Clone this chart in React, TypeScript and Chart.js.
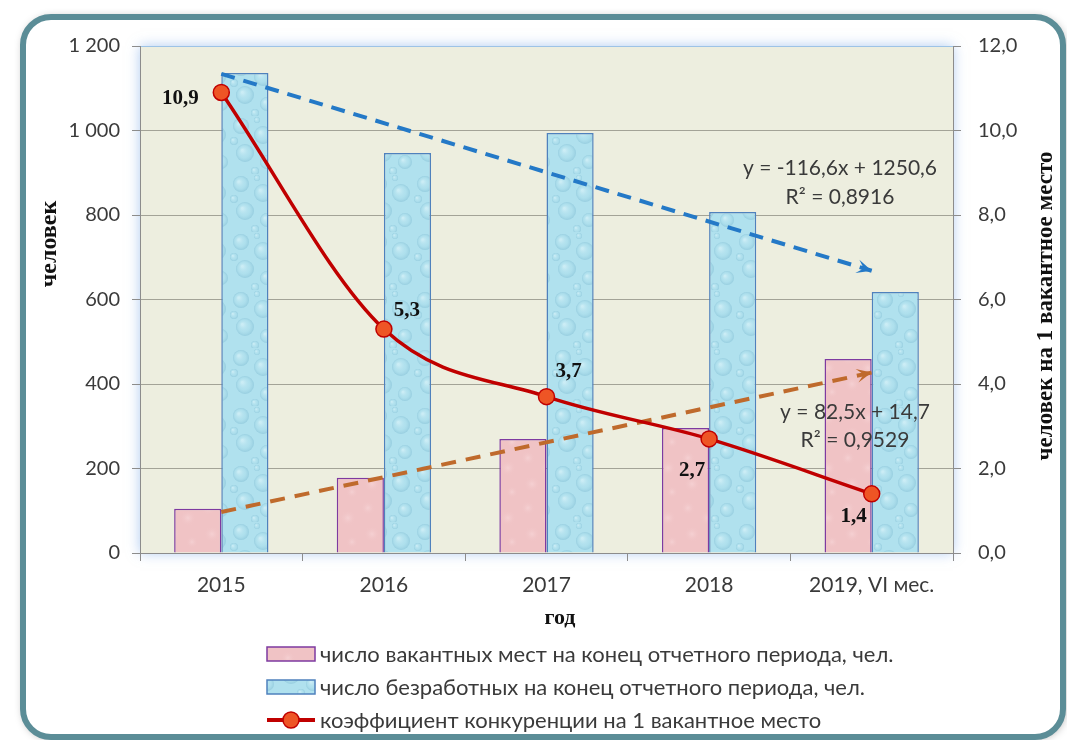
import React, { useEffect, useRef } from 'react';
import { Chart, registerables } from 'chart.js';

Chart.register(...registerables);

// ---------- data ----------
const categories = ['2015', '2016', '2017', '2018', '2019, VI мес.'];
const vacancies = [105, 178, 270, 296, 459];
const unemployed = [1136, 947, 994, 807, 618];
const competition = [10.9, 5.3, 3.7, 2.7, 1.4];
const competitionLabels = ['10,9', '5,3', '3,7', '2,7', '1,4'];
const unemployedTrendEnds = [1134, 668];
const vacancyTrendEnds = [97, 427];
const unemployedTrendText = ['y = -116,6x + 1250,6', 'R² = 0,8916'];
const vacancyTrendText = ['y = 82,5x + 14,7', 'R² = 0,9529'];
const leftTickLabels = ['0', '200', '400', '600', '800', '1 000', '1 200'];
const rightTickLabels = ['0,0', '2,0', '4,0', '6,0', '8,0', '10,0', '12,0'];
const legendLabels = [
  'число вакантных мест на конец отчетного периода, чел.',
  'число безработных на конец отчетного периода, чел.',
  'коэффициент конкуренции на 1 вакантное место',
];
const axisTitleLeft = 'человек';
const axisTitleRight = 'человек на 1 вакантное место';
const axisTitleX = 'год';

// ---------- styles ----------
const SANS = 'Lato, "Open Sans", sans-serif';
const SERIF = '"Liberation Serif", "Times New Roman", serif';
const TEXT = '#3A3A3A';
const GRID = '#A3A397';
const AXIS = '#8C8C8C';
const PINK_BORDER = '#7E3AA0';
const BLUE_BORDER = '#4F81BD';
const RED = '#C00000';
const DOT = '#EE5525';
const TREND_BLUE = '#2479C7';
const TREND_ORANGE = '#BF6A2C';
const labelOffsets = [
  [-41, 6],
  [23, -18],
  [22, -25],
  [-17, 32],
  [-18, 23],
];

function makeBluePattern(): CanvasPattern | string {
  const c = document.createElement('canvas');
  c.width = 46;
  c.height = 58;
  const g = c.getContext('2d');
  if (!g) return '#B0E1EE';
  g.fillStyle = '#B0E1EE';
  g.fillRect(0, 0, c.width, c.height);
  const drops = [
    [11, 10, 8],
    [33, 19, 9],
    [15, 37, 9],
    [37, 46, 7],
    [25, 55, 4],
    [4, 25, 4],
    [27, 4, 3],
  ];
  for (const [x, y, r] of drops) {
    const grd = g.createRadialGradient(x - r * 0.3, y - r * 0.3, r * 0.1, x, y, r);
    grd.addColorStop(0, 'rgba(225,246,251,0.55)');
    grd.addColorStop(0.6, 'rgba(170,220,234,0.25)');
    grd.addColorStop(1, 'rgba(120,182,206,0.45)');
    g.fillStyle = grd;
    g.beginPath();
    g.arc(x, y, r, 0, Math.PI * 2);
    g.fill();
  }
  const pat = g.createPattern(c, 'repeat');
  return pat || '#B0E1EE';
}

function makePinkPattern(): CanvasPattern | string {
  const c = document.createElement('canvas');
  c.width = 40;
  c.height = 50;
  const g = c.getContext('2d');
  if (!g) return '#F1C5C7';
  g.fillStyle = '#F0C3C5';
  g.fillRect(0, 0, c.width, c.height);
  const spots = [
    [8, 8, 7],
    [28, 18, 8],
    [12, 34, 8],
    [32, 42, 6],
  ];
  for (const [x, y, r] of spots) {
    const grd = g.createRadialGradient(x, y, 0, x, y, r);
    grd.addColorStop(0, 'rgba(247,214,216,0.7)');
    grd.addColorStop(1, 'rgba(240,195,197,0)');
    g.fillStyle = grd;
    g.beginPath();
    g.arc(x, y, r, 0, Math.PI * 2);
    g.fill();
  }
  const pat = g.createPattern(c, 'repeat');
  return pat || '#F1C5C7';
}

const backgroundPlugin = {
  id: 'bgFrame',
  beforeDraw(chart: any) {
    const { ctx, chartArea } = chart;
    const { left, top, right, bottom } = chartArea;
    ctx.save();
    ctx.fillStyle = '#ffffff';
    ctx.fillRect(0, 0, chart.width, chart.height);
    // outer frame
    ctx.beginPath();
    (ctx as any).roundRect(23, 17, 1040, 720, 28);
    ctx.shadowColor = 'rgba(0,0,0,0.4)';
    ctx.shadowBlur = 10;
    ctx.shadowOffsetX = 1;
    ctx.shadowOffsetY = 1;
    ctx.fillStyle = '#ffffff';
    ctx.fill();
    ctx.shadowColor = 'rgba(0,0,0,0)';
    ctx.lineWidth = 6;
    ctx.strokeStyle = '#5B8D97';
    ctx.stroke();
    // plot area
    ctx.shadowColor = 'rgba(110,160,230,0.55)';
    ctx.shadowBlur = 12;
    ctx.shadowOffsetX = 0;
    ctx.shadowOffsetY = 0;
    ctx.fillStyle = '#EDEEDF';
    ctx.fillRect(left, top, right - left, bottom - top);
    ctx.restore();
  },
};

const overlayPlugin = {
  id: 'overlay',
  afterDatasetsDraw(chart: any) {
    const { ctx } = chart;
    ctx.save();
    // arrow heads on trend lines
    chart.data.datasets.forEach((ds: any, i: number) => {
      if (!ds.isTrend) return;
      const meta = chart.getDatasetMeta(i);
      const pts = meta.data;
      const a = pts[0];
      const b = pts[pts.length - 1];
      const ang = Math.atan2(b.y - a.y, b.x - a.x);
      const len = 15;
      const hw = 7;
      ctx.fillStyle = ds.borderColor;
      ctx.beginPath();
      ctx.moveTo(b.x, b.y);
      ctx.lineTo(
        b.x - len * Math.cos(ang) + hw * Math.sin(ang),
        b.y - len * Math.sin(ang) - hw * Math.cos(ang)
      );
      ctx.lineTo(b.x - len * 0.55 * Math.cos(ang), b.y - len * 0.55 * Math.sin(ang));
      ctx.lineTo(
        b.x - len * Math.cos(ang) - hw * Math.sin(ang),
        b.y - len * Math.sin(ang) + hw * Math.cos(ang)
      );
      ctx.closePath();
      ctx.fill();
    });
    ctx.restore();
  },
  afterDraw(chart: any) {
    const { ctx, chartArea } = chart;
    ctx.save();
    // data labels of the competition line
    const lineIdx = chart.data.datasets.findIndex((d: any) => d.isRatio);
    const meta = chart.getDatasetMeta(lineIdx);
    ctx.font = `bold 21px ${SERIF}`;
    ctx.fillStyle = '#111111';
    ctx.textAlign = 'center';
    ctx.textBaseline = 'middle';
    meta.data.forEach((p: any, i: number) => {
      const [dx, dy] = labelOffsets[i];
      ctx.fillText(competitionLabels[i], p.x + dx, p.y + dy);
    });

    // trend equations
    ctx.font = `21px ${SANS}`;
    ctx.fillStyle = TEXT;
    ctx.fillText(unemployedTrendText[0], 840, 168);
    ctx.fillText(unemployedTrendText[1], 840, 197);
    ctx.fillText(vacancyTrendText[0], 855, 412);
    ctx.fillText(vacancyTrendText[1], 855, 440);

    // axis titles
    ctx.fillStyle = '#111111';
    ctx.font = `bold 24px ${SERIF}`;
    ctx.save();
    ctx.translate(50, 244);
    ctx.rotate(-Math.PI / 2);
    ctx.fillText(axisTitleLeft, 0, 0);
    ctx.restore();
    ctx.save();
    ctx.translate(1046, 306);
    ctx.rotate(-Math.PI / 2);
    ctx.font = `bold 23px ${SERIF}`;
    ctx.fillText(axisTitleRight, 0, 0);
    ctx.restore();
    ctx.font = `bold 22px ${SERIF}`;
    ctx.fillText(axisTitleX, 560, 618);

    // legend
    const ds = chart.data.datasets;
    const bx = 267;
    const bw = 48;
    const rows = [654, 687, 720];
    ctx.textAlign = 'left';
    ctx.font = `22px ${SANS}`;
    // row 1 (pink)
    ctx.fillStyle = ds[0].backgroundColor;
    ctx.fillRect(bx, rows[0] - 7, bw, 14);
    ctx.strokeStyle = PINK_BORDER;
    ctx.lineWidth = 1.5;
    ctx.strokeRect(bx, rows[0] - 7, bw, 14);
    // row 2 (blue)
    ctx.fillStyle = ds[1].backgroundColor;
    ctx.fillRect(bx, rows[1] - 7, bw, 14);
    ctx.strokeStyle = BLUE_BORDER;
    ctx.strokeRect(bx, rows[1] - 7, bw, 14);
    // row 3 (line)
    ctx.strokeStyle = RED;
    ctx.lineWidth = 4;
    ctx.beginPath();
    ctx.moveTo(bx, rows[2]);
    ctx.lineTo(bx + bw, rows[2]);
    ctx.stroke();
    ctx.fillStyle = DOT;
    ctx.beginPath();
    ctx.arc(bx + bw / 2, rows[2], 8, 0, Math.PI * 2);
    ctx.fill();
    ctx.lineWidth = 1.5;
    ctx.strokeStyle = RED;
    ctx.stroke();
    ctx.fillStyle = TEXT;
    legendLabels.forEach((t, i) => ctx.fillText(t, bx + bw + 5, rows[i] + 1));
    ctx.restore();
  },
};

export default function App() {
  const ref = useRef<HTMLCanvasElement | null>(null);

  useEffect(() => {
    if (!ref.current) return;
    const blue = makeBluePattern();
    const pink = makePinkPattern();
    const trendData = (ends: number[]) =>
      categories.map((_, i) => (i === 0 ? ends[0] : i === categories.length - 1 ? ends[1] : null));

    const chart = new Chart(ref.current, {
      type: 'bar',
      data: {
        labels: categories,
        datasets: [
          {
            type: 'bar',
            label: legendLabels[0],
            data: vacancies,
            backgroundColor: pink as any,
            borderColor: PINK_BORDER,
            borderWidth: 1.5,
            yAxisID: 'y',
            order: 3,
            categoryPercentage: 0.58,
            barPercentage: 1,
          } as any,
          {
            type: 'bar',
            label: legendLabels[1],
            data: unemployed,
            backgroundColor: blue as any,
            borderColor: BLUE_BORDER,
            borderWidth: 1.5,
            yAxisID: 'y',
            order: 3,
            categoryPercentage: 0.58,
            barPercentage: 1,
          } as any,
          {
            type: 'line',
            label: 'trend unemployed',
            isTrend: true,
            data: trendData(unemployedTrendEnds),
            borderColor: TREND_BLUE,
            borderWidth: 4,
            borderDash: [14, 9],
            pointRadius: 0,
            spanGaps: true,
            fill: false,
            yAxisID: 'y',
            order: 2,
          } as any,
          {
            type: 'line',
            label: 'trend vacancies',
            isTrend: true,
            data: trendData(vacancyTrendEnds),
            borderColor: TREND_ORANGE,
            borderWidth: 4,
            borderDash: [15, 10],
            pointRadius: 0,
            spanGaps: true,
            fill: false,
            yAxisID: 'y',
            order: 2,
          } as any,
          {
            type: 'line',
            label: legendLabels[2],
            isRatio: true,
            data: competition,
            borderColor: RED,
            borderWidth: 3.5,
            tension: 0.4,
            cubicInterpolationMode: 'monotone',
            pointRadius: 8,
            pointBackgroundColor: DOT,
            pointBorderColor: RED,
            pointBorderWidth: 1.5,
            fill: false,
            yAxisID: 'y2',
            order: 1,
          } as any,
        ],
      },
      options: {
        responsive: true,
        maintainAspectRatio: false,
        animation: false,
        layout: { padding: { top: 46, left: 0, right: 0, bottom: 0 } },
        plugins: {
          legend: { display: false },
          tooltip: { enabled: false },
        },
        scales: {
          x: {
            type: 'category',
            grid: {
              drawOnChartArea: false,
              drawTicks: true,
              tickLength: 8,
              color: AXIS,
            },
            border: { color: AXIS, width: 1 },
            ticks: {
              color: TEXT,
              font: { family: SANS, size: 21 },
              padding: 12,
              maxRotation: 0,
              autoSkip: false,
            },
            afterFit: (s: any) => {
              s.height = 187;
            },
          },
          y: {
            position: 'left',
            min: 0,
            max: 1200,
            ticks: {
              stepSize: 200,
              color: TEXT,
              font: { family: SANS, size: 20 },
              padding: 12,
              callback: (_v: any, i: number) => leftTickLabels[i],
            },
            grid: {
              color: (c: any) => (c.tick && c.tick.value === 1200 ? '#9DC3E6' : GRID),
              tickColor: AXIS,
              tickLength: 8,
              lineWidth: 1,
            },
            border: { color: AXIS, width: 1 },
            afterFit: (s: any) => {
              s.width = 140;
            },
          },
          y2: {
            position: 'right',
            min: 0,
            max: 12,
            ticks: {
              stepSize: 2,
              color: TEXT,
              font: { family: SANS, size: 20 },
              padding: 17,
              callback: (_v: any, i: number) => rightTickLabels[i],
            },
            grid: {
              drawOnChartArea: false,
              tickColor: AXIS,
              tickLength: 8,
            },
            border: { color: AXIS, width: 1 },
            afterFit: (s: any) => {
              s.width = 114;
            },
          },
        },
      } as any,
      plugins: [backgroundPlugin, overlayPlugin],
    });
    return () => chart.destroy();
  }, []);

  return (
    <div style={{ position: 'absolute', left: 0, top: 0, width: 1067, height: 740 }}>
      <canvas ref={ref} />
    </div>
  );
}
